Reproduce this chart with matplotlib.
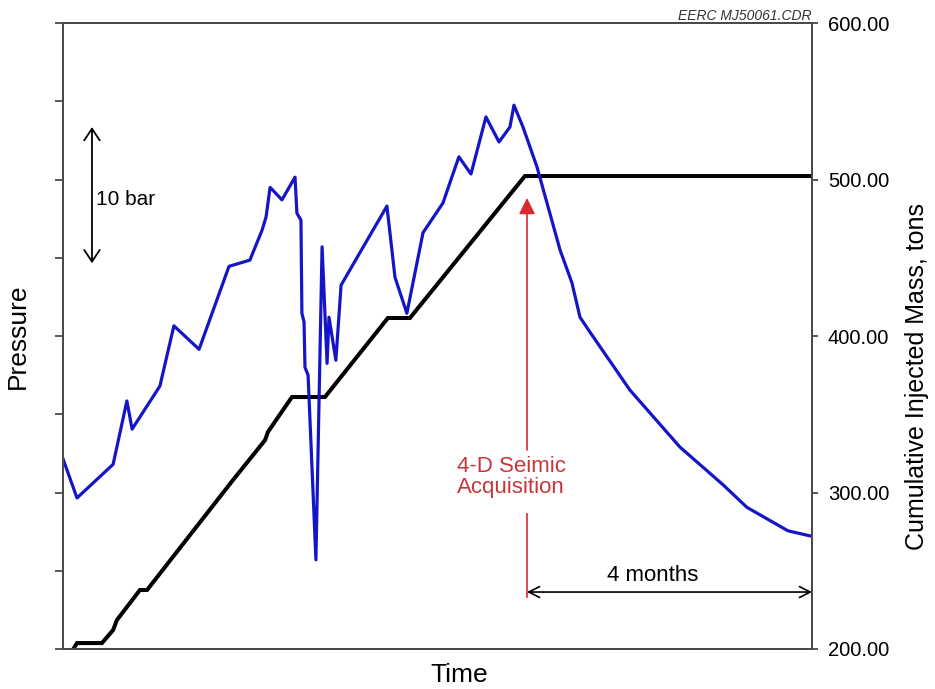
import matplotlib.pyplot as plt
from matplotlib.ticker import FormatStrFormatter

plt.rcParams['font.family'] = ['Liberation Sans', 'DejaVu Sans']

# time in days (4 months ~ 120 days), pressure in relative units (1 unit = one left tick)
p_days = [0, 5.9, 21.1, 26.9, 29.1, 40.8, 46.7, 57.3, 69.9, 78.7,
          83.8, 85.5, 87.2, 92.2, 97.7, 98.5, 100.2, 100.6, 101.5, 101.9,
          103.2, 106.5, 109.1, 111.2, 112.0, 114.9, 117.1, 136.4, 139.8, 144.8,
          151.6, 160.0, 166.7, 171.8, 178.1, 183.6, 188.2, 189.9, 193.7, 199.6,
          209.3, 214.3, 217.7, 221.9, 238.7, 259.8, 277.9, 288.0, 305.3, 315.4]
pressure = [2.43, 1.93, 2.36, 3.17, 2.81, 3.36, 4.13, 3.83, 4.89, 4.97,
            5.35, 5.52, 5.90, 5.74, 6.03, 5.57, 5.48, 4.29, 4.18, 3.60,
            3.50, 1.14, 5.14, 3.65, 4.24, 3.69, 4.65, 5.66, 4.75, 4.29,
            5.32, 5.70, 6.29, 6.07, 6.80, 6.48, 6.67, 6.95, 6.67, 6.16,
            5.10, 4.68, 4.24, 4.05, 3.31, 2.58, 2.10, 1.81, 1.51, 1.44]

m_days = [4.6, 5.9, 16.4, 21.1, 22.7, 32.4, 35.4, 71.6, 85.1, 86.3,
          96.4, 110.3, 136.8, 146.1, 194.5, 315.4]
mass = [200.6, 203.8, 203.8, 212.1, 218.5, 237.7, 237.7, 308.0, 333.5, 338.7,
        361.0, 361.0, 411.5, 411.5, 502.2, 502.2]

mass_ticks = [200, 300, 400, 500, 600]
seismic_day = 195.4
end_day = 315.4

blue = '#1515c8'
red_line = '#d42a30'
red_text = '#c8363c'
spine_col = '#4a4a4a'

fig = plt.figure(figsize=(9.35, 6.89), dpi=100)
ax = fig.add_axes([63 / 935, 1 - 649 / 689, 749 / 935, 626 / 689])
ax2 = ax.twinx()
ax.set_zorder(ax2.get_zorder() + 1)
ax.patch.set_visible(False)

ax2.plot(m_days, mass, color='black', lw=2.9, solid_joinstyle='miter')
ax.plot(p_days, pressure, color=blue, lw=2.3)

ax.set_xlim(0, end_day)
ax.set_ylim(0, 8)
ax2.set_ylim(200, 600)

ax.set_yticks(range(9))
ax.set_yticklabels([])
ax.set_xticks([])
ax.tick_params(axis='y', direction='out', length=6, width=1.3, color=spine_col)

ax2.set_yticks(mass_ticks)
ax2.yaxis.set_major_formatter(FormatStrFormatter('%.2f'))
ax2.tick_params(axis='y', direction='out', length=4.5, width=1.3, color=spine_col,
                labelsize=14.5, pad=7)

for a in (ax, ax2):
    for s in a.spines.values():
        s.set_color(spine_col)
        s.set_linewidth(1.4)

ax.set_ylabel('Pressure', fontsize=19, labelpad=14)
ax.set_xlabel('Time', fontsize=19)
ax.xaxis.set_label_coords(0.529, -0.022)
ax2.set_ylabel('Cumulative Injected Mass, tons', fontsize=18)
ax2.yaxis.set_label_coords(1.124, 0.436)

# 10 bar scale arrow
ax.annotate('', xy=(12.2, 6.67), xytext=(12.2, 4.93),
            arrowprops=dict(arrowstyle='<->,head_length=0.6,head_width=0.4',
                            mutation_scale=14, color='black', lw=1.3,
                            shrinkA=0, shrinkB=0))
ax.text(13.9, 5.75, '10 bar', fontsize=15, ha='left', va='center')

# 4-D seismic acquisition marker
ax2.annotate('', xy=(seismic_day, 488.2), xytext=(seismic_day, 327.2),
             arrowprops=dict(arrowstyle='-|>,head_length=0.7,head_width=0.35',
                             mutation_scale=14, color=red_line, lw=1.2,
                             shrinkA=0, shrinkB=0))
ax2.plot([seismic_day, seismic_day], [233.2, 286.3], color=red_line, lw=1.2)
ax2.text(165.9, 309.9, '4-D Seimic\nAcquisition', fontsize=16, color=red_text,
         ha='left', va='center', linespacing=1.05)

# 4 months span
ax2.annotate('', xy=(seismic_day, 236.4), xytext=(end_day, 236.4),
             arrowprops=dict(arrowstyle='<->,head_length=0.55,head_width=0.28',
                             mutation_scale=14, color='black', lw=1.2,
                             shrinkA=0, shrinkB=0))
ax2.text(248.4, 240.5, '4 months', fontsize=16, ha='center', va='bottom')

ax.text(1.0, 1.004, 'EERC MJ50061.CDR', transform=ax.transAxes, fontsize=10,
        style='italic', color='#333333', ha='right', va='baseline')

fig.savefig('out.png', dpi=100)
